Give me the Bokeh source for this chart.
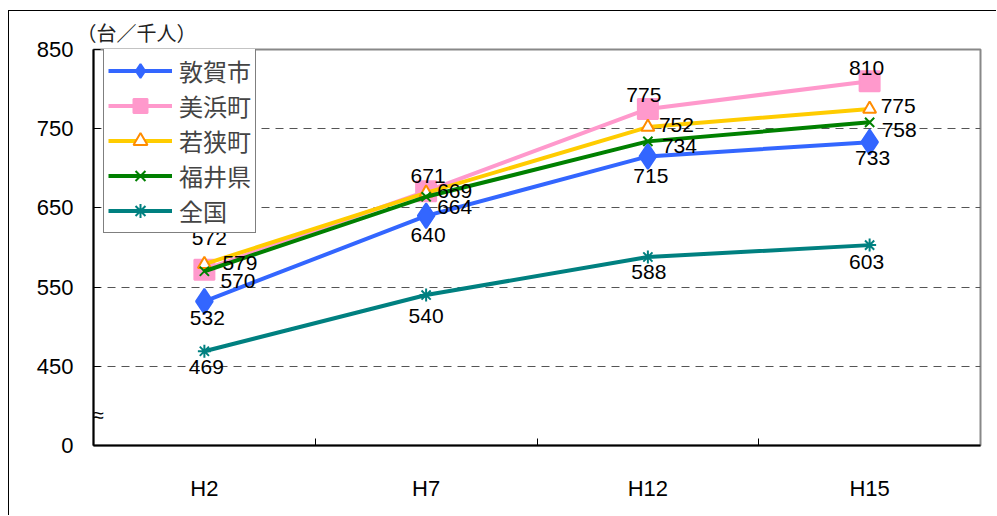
from bokeh.plotting import figure
from bokeh.models import FixedTicker, Legend, LegendItem, ColumnDataSource
from bokeh.core.properties import value
from bokeh.embed import file_html
from bokeh.resources import INLINE

categories = ["H2", "H7", "H12", "H15"]
tsuruga = [532, 640, 715, 733]
mihama = [572, 671, 775, 810]
wakasa = [579, 669, 752, 775]
fukui = [570, 664, 734, 758]
zenkoku = [469, 540, 588, 603]
series_names = ["敦賀市", "美浜町", "若狭町", "福井県", "全国"]
y_ticks = [350, 450, 550, 650, 750, 850]
y_tick_labels = ["0", "450", "550", "650", "750", "850"]
unit_label = "（台／千人）"

xs = [i + 0.5 for i in range(len(categories))]

p = figure(width=988, height=505, x_range=(0, len(categories)), y_range=(350, 850),
           output_backend="svg", toolbar_location=None,
           min_border_left=84, min_border_right=17, min_border_top=38, min_border_bottom=71,
           styles={"margin-left": "8px", "margin-top": "10px",
                   "border-left": "1px solid black", "border-top": "1px solid black"})

p.title.text = unit_label
p.title.align = "left"
p.title.offset = -17
p.title.text_font = "Noto Sans CJK JP"
p.title.text_font_size = "20px"
p.title.text_font_style = "normal"
p.title.text_color = "#222222"
p.title.standoff = 5

p.outline_line_color = "#888888"
p.outline_line_width = 2
p.background_fill_color = "white"
p.border_fill_color = "white"

# x axis
p.xaxis.ticker = FixedTicker(ticks=xs, minor_ticks=[1, 2, 3])
p.xaxis.major_label_overrides = {x: c for x, c in zip(xs, categories)}
p.xaxis.major_tick_in = 0
p.xaxis.major_tick_out = 0
p.xaxis.minor_tick_in = 7
p.xaxis.minor_tick_out = 0
p.xaxis.minor_tick_line_color = "black"
p.xaxis.axis_line_color = "black"
p.xaxis.axis_line_width = 2
p.xaxis.major_label_standoff = 30
p.xaxis.major_label_text_font = "Liberation Sans"
p.xaxis.major_label_text_font_size = "22px"
p.xaxis.major_label_text_color = "black"

# y axis
p.yaxis.ticker = FixedTicker(ticks=y_ticks)
p.yaxis.major_label_overrides = {t: l for t, l in zip(y_ticks, y_tick_labels)}
p.yaxis.major_tick_in = 7
p.yaxis.major_tick_out = 0
p.yaxis.minor_tick_line_color = None
p.yaxis.axis_line_color = "black"
p.yaxis.axis_line_width = 2
p.yaxis.major_label_standoff = 20
p.yaxis.major_label_text_font = "Liberation Sans"
p.yaxis.major_label_text_font_size = "22px"
p.yaxis.major_label_text_color = "black"

p.xgrid.grid_line_color = None
p.ygrid.ticker = FixedTicker(ticks=[450, 550, 650, 750])
p.ygrid.grid_line_color = "#555555"
p.ygrid.grid_line_dash = "8 6"
p.ygrid.grid_line_width = 1

# axis break mark
p.text(x=[0.023], y=[389], text=["≈"], text_font=value("Liberation Sans"), text_font_size="20px",
       text_align="center", text_baseline="middle", text_color="black")

data = [tsuruga, mihama, wakasa, fukui, zenkoku]
styles = [
    dict(color="#3366FF", marker="diamond", size=25, fill="#3366FF", mline="#3366FF"),
    dict(color="#FF99CC", marker="square", size=20, fill="#FF99CC", mline="#FF99CC"),
    dict(color="#FFCC00", marker="triangle", size=13, fill="white", mline="#FF8C00"),
    dict(color="#008000", marker="x", size=13, fill=None, mline="#008000"),
    dict(color="#008080", marker="asterisk", size=13, fill=None, mline="#008080"),
]
label_align = ["center", "center", "left", "left", "center"]
label_dx = [[3, 2, 3, 3], [5, 2, -4, -3], [18, 11, 11, 11], [16, 11, 14, 12], [2, 0, 1, -3]]
label_dy = [[17, 19, 20, 16], [-32, -15, -14, -13], [-1, -2, -2, -3], [10, 10, 5, 8], [16, 21, 15, 17]]

items = []
for name, vals, st in zip(series_names, data, styles):
    src = ColumnDataSource(dict(x=xs, y=vals))
    r1 = p.line("x", "y", source=src, line_color=st["color"], line_width=4)
    r2 = p.scatter("x", "y", source=src, marker=st["marker"], size=st["size"],
                   fill_color=st["fill"], line_color=st["mline"], line_width=2)
    items.append(LegendItem(label=name, renderers=[r1, r2]))

for vals, al, dx, dy in zip(data, label_align, label_dx, label_dy):
    src = ColumnDataSource(dict(x=xs, y=vals, t=[str(v) for v in vals], dx=dx, dy=dy))
    p.text("x", "y", text="t", source=src, text_font=value("Liberation Sans"),
           text_font_size="21px", text_align=al, text_baseline="middle",
           x_offset="dx", y_offset="dy", text_color="black")

legend = Legend(items=items, location=(10, 212))
legend.label_text_font = "Noto Sans CJK JP"
legend.label_text_font_size = "24px"
legend.label_height = 35
legend.glyph_height = 35
legend.glyph_width = 64
legend.spacing = 0
legend.padding = 4
legend.label_standoff = 7
legend.border_line_color = "black"
legend.border_line_width = 1
legend.background_fill_color = "white"
legend.background_fill_alpha = 1
p.add_layout(legend, "center")

open("out.html", "w").write(file_html(p, INLINE))
